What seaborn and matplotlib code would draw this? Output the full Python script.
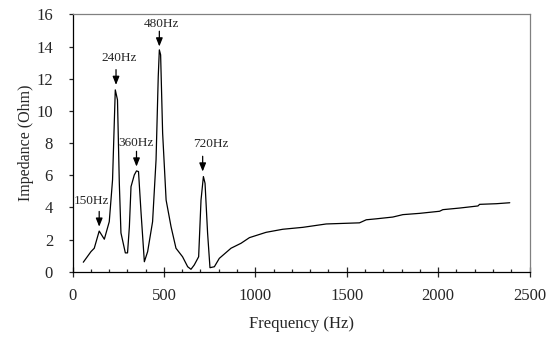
import matplotlib
matplotlib.use("Agg")
import matplotlib.pyplot as plt
import seaborn as sns
import pandas as pd

# data
freq = [59, 101, 119, 146, 174, 201, 219, 234, 246, 256, 265, 289, 301, 311, 320,
        338, 350, 361, 375, 393, 411, 438, 457, 469, 475, 482, 493, 512, 539, 566,
        602, 630, 648, 666, 690, 703, 716, 725, 739, 752, 776, 803, 867, 922, 968,
        1059, 1150, 1260, 1388, 1570, 1607, 1662, 1752, 1807, 1899, 2008, 2026,
        2118, 2218, 2227, 2319, 2392]
impedance = [0.59, 1.25, 1.46, 2.53, 2.02, 3.11, 5.71, 11.31, 10.69, 5.52, 2.41,
             1.17, 1.17, 2.79, 5.29, 6.02, 6.27, 6.23, 3.66, 0.62, 1.25, 3.11, 6.96,
             12.14, 13.80, 13.49, 8.62, 4.46, 2.80, 1.46, 0.93, 0.31, 0.15, 0.42,
             0.93, 4.46, 5.92, 5.50, 2.39, 0.25, 0.31, 0.83, 1.46, 1.77, 2.12, 2.45,
             2.64, 2.76, 2.97, 3.04, 3.23, 3.29, 3.40, 3.55, 3.63, 3.76, 3.86, 3.96,
             4.09, 4.19, 4.23, 4.29]

# peak labels: text, arrow x, arrow tip y, text centre x, text y
peak_labels = ["150Hz", "240Hz", "360Hz", "480Hz", "720Hz"]
peak_x = [146, 238, 350, 475, 712]
peak_tip = [2.80, 11.62, 6.54, 14.01, 6.23]
label_x = [105, 253, 348, 488, 754]
label_y = [4.42, 13.29, 8.03, 15.42, 7.95]

df = pd.DataFrame({"Frequency": freq, "Impedance": impedance})

sns.set_style("white")
plt.rcParams["font.family"] = ["Liberation Serif", "DejaVu Serif"]

fig = plt.figure(figsize=(5.51, 3.41), dpi=100)
ax = fig.add_axes([0.1316, 0.2032, 0.8294, 0.7543])

sns.lineplot(data=df, x="Frequency", y="Impedance", color="black",
             linewidth=0.9, estimator=None, ax=ax)

for lab, px, tip, tx, ty in zip(peak_labels, peak_x, peak_tip, label_x, label_y):
    ax.annotate("", xy=(px, tip), xytext=(px, tip + 0.95),
                arrowprops=dict(arrowstyle="-|>,head_length=0.5,head_width=0.2",
                                color="black", lw=0.9, shrinkA=0, shrinkB=0))
    ax.text(tx, ty, lab, ha="center", va="center", fontsize=9.5)

ax.set_xlim(0, 2500)
ax.set_ylim(0, 16)
ax.set_xticks(range(0, 2501, 500))
ax.set_xticks(range(0, 2501, 100), minor=True)
ax.set_yticks(range(0, 17, 2))
ax.set_xlabel("Frequency (Hz)", fontsize=12, labelpad=9)
ax.set_ylabel("Impedance (Ohm)", fontsize=11.5, labelpad=2)
ax.tick_params(axis="x", which="major", direction="inout", length=7, width=0.9,
               labelsize=12, pad=8, bottom=True)
ax.tick_params(axis="x", which="minor", direction="in", length=2.5, width=0.9,
               bottom=True)
ax.tick_params(axis="y", which="major", direction="out", length=3, width=0.9,
               labelsize=12, pad=11, left=True)

for side in ["left", "bottom"]:
    ax.spines[side].set_color("black")
    ax.spines[side].set_linewidth(0.9)
for side in ["top", "right"]:
    ax.spines[side].set_color("#808080")
    ax.spines[side].set_linewidth(0.9)

fig.savefig("out.png", dpi=100)
